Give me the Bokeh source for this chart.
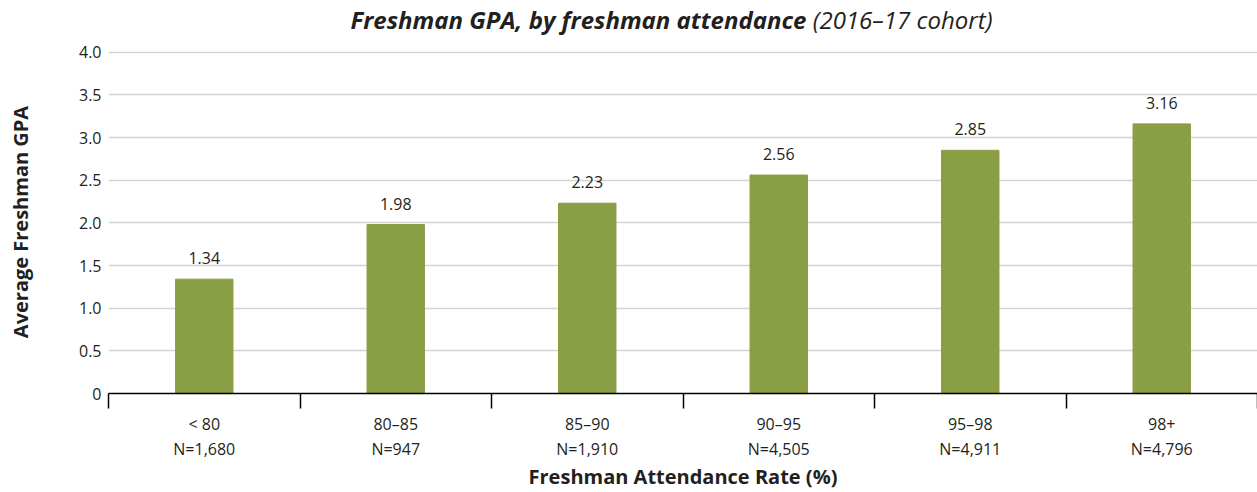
from bokeh.plotting import figure
from bokeh.models import FixedTicker, ColumnDataSource, Range1d, NumeralTickFormatter, LinearAxis, Div
from bokeh.layouts import column
from bokeh.core.properties import value
from bokeh.embed import file_html
from bokeh.resources import INLINE

categories = ["< 80", "80–85", "85–90", "90–95", "95–98", "98+"]
counts = ["N=1,680", "N=947", "N=1,910", "N=4,505", "N=4,911", "N=4,796"]
gpa = [1.34, 1.98, 2.23, 2.56, 2.85, 3.16]
y_ticks = [0, 0.5, 1.0, 1.5, 2.0, 2.5, 3.0, 3.5, 4.0]
title_main = "Freshman GPA, by freshman attendance"
title_sub = "(2016–17 cohort)"

FONT = "Open Sans"
TXT = "#231f20"
BAR = "#8a9e45"

W, H = 1257, 492
TITLE_H = 40
TOP, BOTTOM, LEFT = 10, 97, 108

n = len(categories)
centers = [i + 0.5 for i in range(n)]
bounds = list(range(n + 1))

src = ColumnDataSource(dict(x=centers, top=gpa, lab=[f"{v:.2f}" for v in gpa]))

title = Div(width=W, height=TITLE_H, margin=0,
            text=(f'<div style="width:{W}px; text-align:center; padding-left:86px; box-sizing:border-box; '
                  f'line-height:{TITLE_H}px; font-family:\'{FONT}\'; font-size:24px; color:{TXT}; '
                  f'font-style:italic; white-space:nowrap;">'
                  f'<b>{title_main}</b> {title_sub}</div>'))

p = figure(width=W, height=H - TITLE_H, output_backend="svg", toolbar_location=None,
           x_range=Range1d(0, n), y_range=Range1d(0, 4.02),
           min_border_left=LEFT, min_border_right=0, min_border_top=TOP, min_border_bottom=BOTTOM)
p.margin = 0
p.outline_line_color = None
p.background_fill_color = "white"

p.vbar(x="x", top="top", width=0.3, source=src, color=BAR)
p.text(x="x", y="top", text="lab", source=src, text_align="center", text_baseline="bottom",
       y_offset=-15, text_font=value(FONT), text_font_size="16px", text_color=TXT)

# y axis
p.yaxis.ticker = FixedTicker(ticks=y_ticks)
p.yaxis.formatter = NumeralTickFormatter(format="0.0")
p.yaxis.major_label_overrides = {0: "0"}
p.yaxis.axis_line_color = None
p.yaxis.major_tick_line_color = None
p.yaxis.minor_tick_line_color = None
p.yaxis.major_tick_out = 0
p.yaxis.major_tick_in = 0
p.yaxis.major_label_standoff = 7
p.yaxis.major_label_text_font = FONT
p.yaxis.major_label_text_font_size = "16px"
p.yaxis.major_label_text_color = TXT
p.yaxis.axis_label = "Average Freshman GPA"
p.yaxis.axis_label_text_font = FONT
p.yaxis.axis_label_text_font_size = "20px"
p.yaxis.axis_label_text_font_style = "bold"
p.yaxis.axis_label_text_color = TXT
p.yaxis.axis_label_standoff = 42

p.ygrid.ticker = FixedTicker(ticks=y_ticks[1:])
p.ygrid.grid_line_color = "#d4d4d4"
p.ygrid.grid_line_width = 1.5
p.xgrid.grid_line_color = None

# x axis: category names, boundary ticks
p.xaxis.ticker = FixedTicker(ticks=centers, minor_ticks=bounds)
p.xaxis.major_label_overrides = {c: a for c, a in zip(centers, categories)}
p.xaxis.major_tick_line_color = None
p.xaxis.major_tick_out = 0
p.xaxis.major_tick_in = 0
p.xaxis.minor_tick_line_color = "black"
p.xaxis.minor_tick_line_width = 1.5
p.xaxis.minor_tick_out = 15
p.xaxis.minor_tick_in = 0
p.xaxis.axis_line_color = "black"
p.xaxis.axis_line_width = 1.5
p.xaxis.major_label_standoff = 4
p.xaxis.major_label_text_font = FONT
p.xaxis.major_label_text_font_size = "16px"
p.xaxis.major_label_text_color = TXT

# second row: counts + axis title
ax2 = LinearAxis(ticker=FixedTicker(ticks=centers, minor_ticks=[]),
                 major_label_overrides={c: b for c, b in zip(centers, counts)})
ax2.axis_line_color = None
ax2.major_tick_line_color = None
ax2.minor_tick_line_color = None
ax2.major_tick_out = 0
ax2.major_tick_in = 0
ax2.minor_tick_out = 0
ax2.minor_tick_in = 0
ax2.major_label_standoff = 0
ax2.major_label_text_font = FONT
ax2.major_label_text_font_size = "16px"
ax2.major_label_text_color = TXT
ax2.axis_label = "Freshman Attendance Rate (%)"
ax2.axis_label_text_font = FONT
ax2.axis_label_text_font_size = "20px"
ax2.axis_label_text_font_style = "bold"
ax2.axis_label_text_color = TXT
ax2.axis_label_standoff = 0
p.add_layout(ax2, "below")

layout = column(title, p, spacing=0)
layout.margin = 0
open("out.html", "w").write(file_html(layout, INLINE))
